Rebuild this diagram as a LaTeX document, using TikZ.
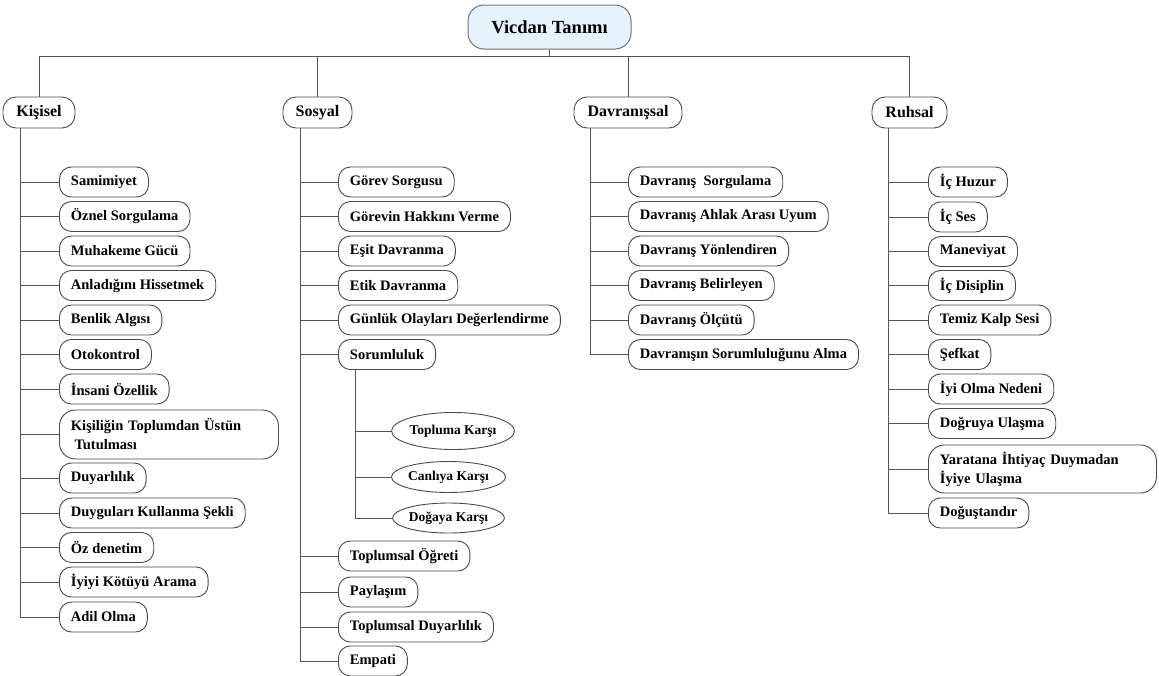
\documentclass[tikz,border=0pt]{standalone}
\usepackage{fontspec}
\setmainfont{Liberation Serif}
\usetikzlibrary{shapes.geometric}
\definecolor{bcol}{HTML}{4A4A4A}
\definecolor{lcol}{HTML}{555555}
\definecolor{rootfill}{HTML}{E6F2FC}
\tikzset{
  leaf/.style={draw=bcol, line width=0.9pt, rounded corners=12pt, anchor=west, align=left,
    inner xsep=11.5pt, inner ysep=0pt, minimum height=30pt,
    font=\fontsize{14.5}{19}\selectfont\bfseries},
  cat/.style={draw=bcol, line width=0.9pt, rounded corners=13pt, inner sep=0pt,
    minimum height=31pt, font=\fontsize{16}{19}\selectfont\bfseries},
  oval/.style={draw=bcol, line width=0.9pt, ellipse, inner sep=0pt,
    font=\fontsize{13.5}{16}\selectfont\bfseries},
  conn/.style={draw=lcol, line width=1pt},
}
\begin{document}
\begin{tikzpicture}[x=1pt,y=-1pt]
\useasboundingbox (0,0) rectangle (1159,675);
% root
\node[draw=black!55, line width=1pt, fill=rootfill, rounded corners=16pt, minimum width=163pt,
  minimum height=44pt, inner sep=0pt, font=\fontsize{18.5}{21}\selectfont\bfseries] (root) at (549.5,27) {Vicdan Tanımı};
% categories
\node[cat, minimum width=72pt] (kis) at (39,112.5) {Kişisel};
\node[cat, minimum width=69pt] (sos) at (317.5,112.5) {Sosyal};
\node[cat, minimum width=108pt] (dav) at (628,112.5) {Davranışsal};
\node[cat, minimum width=75pt] (ruh) at (909.5,112.5) {Ruhsal};
\coordinate (bus) at (549.5,56.5);
\draw[conn] (root.south) -- (root.south |- bus);
\draw[conn] (kis.north) -- (kis.north |- bus) -- (ruh.north |- bus) -- (ruh.north);
\draw[conn] (sos.north) -- (sos.north |- bus);
\draw[conn] (dav.north) -- (dav.north |- bus);
% trunk x positions
\coordinate (kt) at (20.7,0);
\coordinate (st) at (300,0);
\coordinate (dt) at (590,0);
\coordinate (rt) at (888,0);
\coordinate (sst) at (355,0);
% Kisisel
\node[leaf] (k1) at (59,182) {Samimiyet};
\node[leaf] (k2) at (59,216.5) {Öznel Sorgulama};
\node[leaf] (k3) at (59,251) {Muhakeme Gücü};
\node[leaf] (k4) at (59,285.5) {Anladığını Hissetmek};
\node[leaf] (k5) at (59,320) {Benlik Algısı};
\node[leaf] (k6) at (59,354.5) {Otokontrol};
\node[leaf] (k7) at (59,389) {İnsani Özellik};
\node[leaf, text width=196pt, minimum height=49pt, rounded corners=16pt] (k8) at (59,434.5) {Kişiliğin Toplumdan Üstün\\\hspace{0.25em}Tutulması};
\node[leaf] (k9) at (59,478) {Duyarlılık};
\node[leaf] (k10) at (59,513) {Duyguları Kullanma Şekli};
\node[leaf] (k11) at (59,547.5) {Öz denetim};
\node[leaf] (k12) at (59,582) {İyiyi Kötüyü Arama};
\node[leaf] (k13) at (59,617) {Adil Olma};
\foreach \c in {k1,k2,k3,k4,k5,k6,k7,k8,k9,k10,k11,k12,k13}
  \draw[conn] (kt |- kis.south) |- (\c.west);
% Sosyal
\node[leaf] (s1) at (338,182) {Görev Sorgusu};
\node[leaf] (s2) at (338,216.5) {Görevin Hakkını Verme};
\node[leaf] (s3) at (338,251) {Eşit Davranma};
\node[leaf] (s4) at (338,285.5) {Etik Davranma};
\node[leaf] (s5) at (338,320) {Günlük Olayları Değerlendirme};
\node[leaf] (s6) at (338,354.5) {Sorumluluk};
\node[oval, minimum width=120pt, minimum height=37pt] (e1) at (453,431) {Topluma Karşı};
\node[oval, minimum width=109pt, minimum height=31pt] (e2) at (448.5,477) {Canlıya Karşı};
\node[oval, minimum width=109pt, minimum height=30pt] (e3) at (448.5,518) {Doğaya Karşı};
\node[leaf] (s7) at (338,556) {Toplumsal Öğreti};
\node[leaf] (s8) at (338,592) {Paylaşım};
\node[leaf] (s9) at (338,627) {Toplumsal Duyarlılık};
\node[leaf] (s10) at (338,661) {Empati};
\foreach \c in {s1,s2,s3,s4,s5,s6,s7,s8,s9,s10}
  \draw[conn] (st |- sos.south) |- (\c.west);
\foreach \c in {e1,e2,e3}
  \draw[conn] (sst |- s6.south) |- (\c.west);
% Davranissal
\node[leaf] (d1) at (628,182) {Davranış~~Sorgulama};
\node[leaf] (d2) at (628,216.5) {Davranış Ahlak Arası Uyum};
\node[leaf] (d3) at (628,251) {Davranış Yönlendiren};
\node[leaf] (d4) at (628,285.5) {Davranış Belirleyen};
\node[leaf] (d5) at (628,320) {Davranış Ölçütü};
\node[leaf] (d6) at (628,354.5) {Davranışın Sorumluluğunu Alma};
\foreach \c in {d1,d2,d3,d4,d5,d6}
  \draw[conn] (dt |- dav.south) |- (\c.west);
% Ruhsal
\node[leaf] (r1) at (928,182) {İç Huzur};
\node[leaf] (r2) at (928,217) {İç Ses};
\node[leaf] (r3) at (928,251.5) {Maneviyat};
\node[leaf] (r4) at (928,285.5) {İç Disiplin};
\node[leaf] (r5) at (928,320) {Temiz Kalp Sesi};
\node[leaf] (r6) at (928,354.5) {Şefkat};
\node[leaf] (r7) at (928,389) {İyi Olma Nedeni};
\node[leaf] (r8) at (928,423.5) {Doğruya Ulaşma};
\node[leaf, text width=205pt, minimum height=48pt, rounded corners=16pt] (r9) at (928,469) {Yaratana İhtiyaç Duymadan\\İyiye Ulaşma};
\node[leaf] (r10) at (928,513) {Doğuştandır};
\foreach \c in {r1,r2,r3,r4,r5,r6,r7,r8,r9,r10}
  \draw[conn] (rt |- ruh.south) |- (\c.west);
\end{tikzpicture}
\end{document}
